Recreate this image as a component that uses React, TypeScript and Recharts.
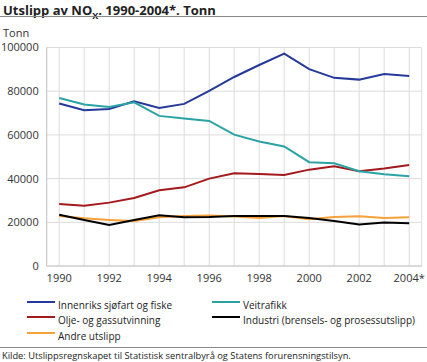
import { LineChart, Line, XAxis, YAxis, CartesianGrid } from "recharts";

const years = ["1990", "1991", "1992", "1993", "1994", "1995", "1996", "1997", "1998", "1999", "2000", "2001", "2002", "2003", "2004*"];
const innenriks = [74400, 71300, 71900, 75400, 72300, 74200, 80100, 86500, 92000, 97200, 90100, 86100, 85300, 87900, 87000];
const veitrafikk = [76900, 73900, 72800, 74900, 68700, 67500, 66400, 60100, 57000, 54700, 47500, 47000, 43400, 42000, 41100];
const olje = [28400, 27600, 29000, 31100, 34700, 36000, 40000, 42400, 42100, 41700, 44100, 45600, 43400, 44600, 46200];
const andre = [22900, 21800, 21100, 20600, 22300, 22900, 23100, 22600, 22000, 22900, 21400, 22400, 22800, 22000, 22300];
const industri = [23500, 21100, 18800, 21100, 23200, 22300, 22400, 22900, 22900, 22900, 22000, 20600, 19000, 19900, 19600];
const yTicks = [0, 20000, 40000, 60000, 80000, 100000];

const series = [
  { key: "innenriks", name: "Innenriks sjøfart og fiske", color: "#24399a", values: innenriks },
  { key: "olje", name: "Olje- og gassutvinning", color: "#a3191c", values: olje },
  { key: "andre", name: "Andre utslipp", color: "#f7a13a", values: andre },
  { key: "veitrafikk", name: "Veitrafikk", color: "#2ba3a5", values: veitrafikk },
  { key: "industri", name: "Industri (brensels- og prosessutslipp)", color: "#000000", values: industri },
];

const data = years.map((year, i) => {
  const row: Record<string, string | number> = { year };
  series.forEach((s) => (row[s.key] = s.values[i]));
  return row;
});

const font = "'Open Sans', sans-serif";

function LegendItem({ name, color }: { name: string; color: string }) {
  return (
    <div style={{ display: "flex", alignItems: "center", height: 15.5, whiteSpace: "nowrap" }}>
      <div style={{ width: 28, height: 2, background: color, marginRight: 3, marginTop: -6 }} />
      <span>{name}</span>
    </div>
  );
}

export default function App() {
  return (
    <div style={{ position: "absolute", left: 0, top: 0, width: 427, height: 362, background: "#fff", fontFamily: font, color: "#222" }}>
      <div style={{ position: "absolute", left: 3, top: 1, fontSize: 13, fontWeight: 700 }}>
        Utslipp av NO<sub style={{ fontSize: 9 }}>X</sub>. 1990-2004*. Tonn
      </div>
      <div style={{ position: "absolute", left: 0, top: 16, width: 427, height: 1, background: "#888" }} />
      <div style={{ position: "absolute", left: 3, top: 25, fontSize: 11, color: "#333" }}>Tonn</div>
      <div style={{ position: "absolute", left: 0, top: 0 }}>
        <LineChart width={427} height={290} data={data} margin={{ top: 47.5, right: 5.3, left: 0, bottom: 0 }}>
          <CartesianGrid stroke="#dcdcdc" />
          <XAxis
            dataKey="year"
            interval={0}
            height={24}
            tickLine={false}
            stroke="#c8c8c8"
            tick={{ fill: "#333", fontSize: 11, fontFamily: font }}
            tickFormatter={(v: string) => (parseInt(v) % 2 === 0 ? v : "")}
            padding={{ left: 12.5, right: 12.5 }}
          />
          <YAxis
            width={46.7}
            domain={[0, 100000]}
            ticks={yTicks}
            tickLine={false}
            stroke="#c8c8c8"
            tick={{ fill: "#333", fontSize: 11, fontFamily: font }}
          />
          {series.map((s) => (
            <Line
              key={s.key}
              dataKey={s.key}
              stroke={s.color}
              strokeWidth={2}
              dot={false}
              isAnimationActive={false}
            />
          ))}
        </LineChart>
      </div>
      <div style={{ position: "absolute", left: 27, top: 297, fontSize: 10, color: "#222" }}>
        {series.slice(0, 3).map((s) => (
          <LegendItem key={s.key} name={s.name} color={s.color} />
        ))}
      </div>
      <div style={{ position: "absolute", left: 212, top: 297, fontSize: 10, color: "#222" }}>
        {series.slice(3).map((s) => (
          <LegendItem key={s.key} name={s.name} color={s.color} />
        ))}
      </div>
      <div style={{ position: "absolute", left: 0, top: 347, width: 427, height: 1, background: "#888" }} />
      <div style={{ position: "absolute", left: 2, top: 349, fontSize: 9.3, color: "#222" }}>
        Kilde: Utslippsregnskapet til Statistisk sentralbyrå og Statens forurensningstilsyn.
      </div>
    </div>
  );
}
